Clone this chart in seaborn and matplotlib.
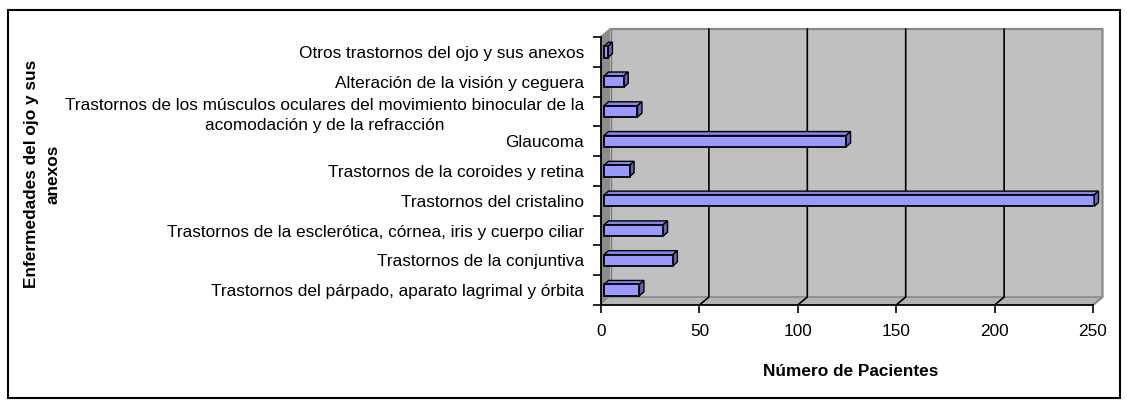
import numpy as np
import pandas as pd
import matplotlib
matplotlib.use("Agg")
import matplotlib.pyplot as plt
import seaborn as sns
from matplotlib.patches import Polygon, Rectangle
from matplotlib.lines import Line2D

categories = [
    "Otros trastornos del ojo y sus anexos",
    "Alteración de la visión y ceguera",
    "Trastornos de los músculos oculares del movimiento binocular de la\nacomodación y de la refracción",
    "Glaucoma",
    "Trastornos de la coroides y retina",
    "Trastornos del cristalino",
    "Trastornos de la esclerótica, córnea, iris y cuerpo ciliar",
    "Trastornos de la conjuntiva",
    "Trastornos del párpado, aparato lagrimal y órbita",
]
pacientes = [2, 10, 17, 123, 13, 249, 30, 35, 18]
x_ticks = [0, 50, 100, 150, 200, 250]
x_label = "Número de Pacientes"
y_label = "Enfermedades del ojo y sus\nanexos"

sns.set_theme(style="ticks")
plt.rcParams['font.family'] = ['Liberation Sans', 'DejaVu Sans']
FS = 12.4

W, H = 1127, 407
fig = plt.figure(figsize=(W / 100, H / 100), dpi=100)
L, R, T, B = 601, 1093, 37, 305
ax = fig.add_axes([L / W, 1 - B / H, (R - L) / W, (B - T) / H])
ax.set_facecolor("none")

df = pd.DataFrame({"cat": categories, "val": pacientes})
sns.barplot(data=df, y="cat", x="val", orient="h", color="#9999ff",
            saturation=1, width=0.38, edgecolor="black", linewidth=1.3,
            ax=ax, zorder=5)
xmax = x_ticks[-1]
n = len(categories)
ax.set_xlim(0, xmax)
ax.set_ylim(n - 0.5, -0.5)

sx = (R - L) / xmax          # px per x unit
sy = (B - T) / n             # px per category
dxw, dyw = 9.5 / sx, 8 / sy  # wall depth
dxb, dyb = 4.5 / sx, 4 / sy  # bar depth
shift = 3 / sx

top, bot = -0.5, n - 0.5
# back wall
ax.add_patch(Rectangle((dxw, top - dyw), xmax, n, facecolor="#c0c0c0",
                       edgecolor="none", zorder=0, clip_on=False))
# left wall
ax.add_patch(Polygon([(0, top), (dxw, top - dyw), (dxw, bot - dyw), (0, bot)],
                     closed=True, facecolor="#8c8c8c", edgecolor="none",
                     zorder=1, clip_on=False))
# floor
ax.add_patch(Polygon([(0, bot), (xmax, bot), (xmax + dxw, bot - dyw), (dxw, bot - dyw)],
                     closed=True, facecolor="#b4b4b4", edgecolor="none",
                     zorder=1, clip_on=False))
ax.add_line(Line2D([dxw, xmax + dxw], [bot - dyw, bot - dyw], color="#8a8a8a",
                   lw=1.2, zorder=1.5, clip_on=False))
# wall outline (gray)
ax.add_line(Line2D([0, dxw, xmax + dxw, xmax + dxw, xmax],
                   [top, top - dyw, top - dyw, bot - dyw, bot],
                   color="#8a8a8a", lw=1.6, zorder=2, clip_on=False))
ax.add_line(Line2D([dxw, dxw], [top - dyw, bot - dyw], color="#7a7a7a",
                   lw=1.0, zorder=1.5, clip_on=False))
for v in x_ticks[1:-1]:
    ax.add_line(Line2D([v + dxw, v + dxw, v], [top - dyw, bot - dyw, bot],
                       color="black", lw=1.2, zorder=2, clip_on=False))

# 3D bar faces
bars = [p for p in ax.patches if p.get_zorder() == 5]
for p in bars:
    p.set_x(p.get_x() + shift)
    x0 = p.get_x()
    x1 = x0 + p.get_width()
    y0 = p.get_y()
    y1 = y0 + p.get_height()
    ytop = min(y0, y1)
    ybot = max(y0, y1)
    ax.add_patch(Polygon([(x0, ytop), (x1, ytop), (x1 + dxb, ytop - dyb), (x0 + dxb, ytop - dyb)],
                         closed=True, facecolor="#8585e8", edgecolor="black",
                         lw=1.0, zorder=4, clip_on=False))
    ax.add_patch(Polygon([(x1, ytop), (x1 + dxb, ytop - dyb), (x1 + dxb, ybot - dyb), (x1, ybot)],
                         closed=True, facecolor="#6666b3", edgecolor="black",
                         lw=1.0, zorder=4, clip_on=False))

for s in ["top", "right"]:
    ax.spines[s].set_visible(False)
for s in ["left", "bottom"]:
    ax.spines[s].set_color("black")
    ax.spines[s].set_linewidth(1.3)
    ax.spines[s].set_zorder(3)

ax.set_xticks(x_ticks)
ax.set_xticklabels([str(v) for v in x_ticks], fontsize=FS, color="black")
ax.tick_params(axis="x", length=6, width=1.2, color="black", pad=8, direction="out")

ax.set_yticks(np.arange(-0.5, n, 1))
ax.set_yticklabels([])
ax.set_yticks(np.arange(n), minor=True)
ax.set_yticklabels(categories, minor=True, fontsize=FS, color="black")
ax.tick_params(axis="y", which="major", length=6, width=1.2, color="black", direction="out", left=True)
ax.tick_params(axis="y", which="minor", length=0, pad=12, left=False)
for t in ax.get_yticklabels(minor=True):
    t.set_multialignment("center")
    t.set_linespacing(1.45)

ax.set_xlabel("")
ax.set_ylabel("")
fig.text(851 / W, 1 - 372 / H, x_label, ha="center", va="center",
         fontsize=FS, fontweight="bold", color="black")
fig.text(42 / W, 1 - 174 / H, y_label, ha="center", va="center", rotation=90,
         fontsize=FS, fontweight="bold", color="black", multialignment="center",
         linespacing=1.5)

fig.add_artist(Rectangle((8 / W, 1 - 398 / H), (1120 - 8) / W, (398 - 10) / H,
                         transform=fig.transFigure, fill=False,
                         edgecolor="black", lw=1.5))

fig.savefig("out.png", dpi=100, facecolor="white")
